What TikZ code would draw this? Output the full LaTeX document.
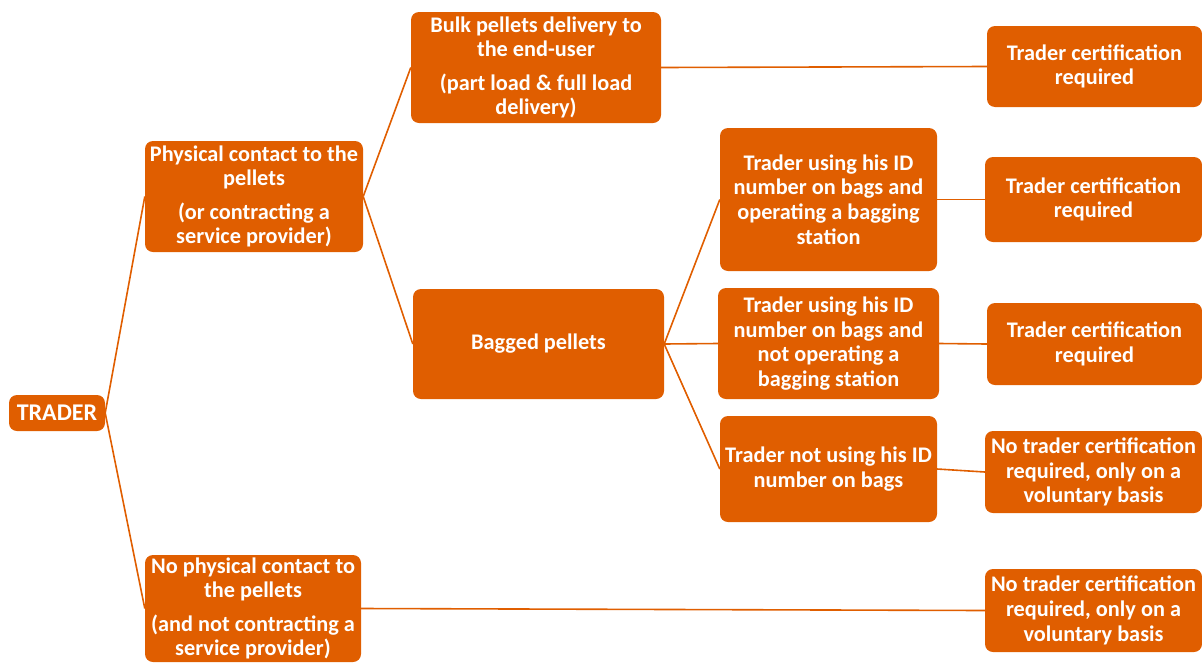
\documentclass[tikz,border=0pt]{standalone}
\usepackage{fontspec}
\setmainfont{Carlito}
\definecolor{orng}{RGB}{224,94,0}
\begin{document}
\begin{tikzpicture}[x=1pt,y=-1pt,
  box/.style={fill=orng, rounded corners=8pt, text=white, align=center, inner sep=0pt,
    font=\bfseries\fontsize{22.3}{24.6}\selectfont},
  conn/.style={draw=orng, line width=1.6pt}]
\useasboundingbox (0,0) rectangle (1202,662);
\node[box, minimum width=96, minimum height=36, font=\bfseries\fontsize{24}{26}\selectfont] (trader) at (57,413) {TRADER};
\node[box, minimum width=218, minimum height=111] (phys) at (254,196.5) {Physical contact to the\\pellets\\[9pt](or contracting a\\service provider)};
\node[box, minimum width=250, minimum height=111] (bulk) at (536,67.5) {Bulk pellets delivery to\\the end-user\\[9pt](part load \& full load\\delivery)};
\node[box, minimum width=251, minimum height=110] (bag) at (538.5,344) {Bagged pellets};
\node[box, minimum width=217, minimum height=143] (op) at (828.5,199.5) {Trader using his ID\\number on bags and\\operating a bagging\\station};
\node[box, minimum width=221, minimum height=111] (notop) at (828.5,343.5) {Trader using his ID\\number on bags and\\not operating a\\bagging station};
\node[box, minimum width=217, minimum height=106] (notuse) at (828.5,469) {Trader not using his ID\\number on bags};
\node[box, minimum width=215, minimum height=81] (c1) at (1094.5,66.5) {Trader certification\\required};
\node[box, minimum width=217, minimum height=85] (c2) at (1093.5,199.5) {Trader certification\\required};
\node[box, minimum width=215, minimum height=82] (c3) at (1094.5,344) {Trader certification\\required};
\node[box, minimum width=217, minimum height=82] (n1) at (1093.5,472) {No trader certification\\required, only on a\\voluntary basis};
\node[box, minimum width=216, minimum height=107] (nophys) at (253,608.5) {No physical contact to\\the pellets\\[9pt](and not contracting a\\service provider)};
\node[box, minimum width=217, minimum height=83] (n2) at (1093.5,610.5) {No trader certification\\required, only on a\\voluntary basis};
\draw[conn] (trader.east) -- (phys.west);
\draw[conn] (trader.east) -- (nophys.west);
\draw[conn] (phys.east) -- (bulk.west);
\draw[conn] (phys.east) -- (bag.west);
\draw[conn] (bulk.east) -- (c1.west);
\draw[conn] (bag.east) -- (op.west);
\draw[conn] (bag.east) -- (notop.west);
\draw[conn] (bag.east) -- (notuse.west);
\draw[conn] (op.east) -- (c2.west);
\draw[conn] (notop.east) -- (c3.west);
\draw[conn] (notuse.east) -- (n1.west);
\draw[conn] (nophys.east) -- (n2.west);
\end{tikzpicture}
\end{document}
